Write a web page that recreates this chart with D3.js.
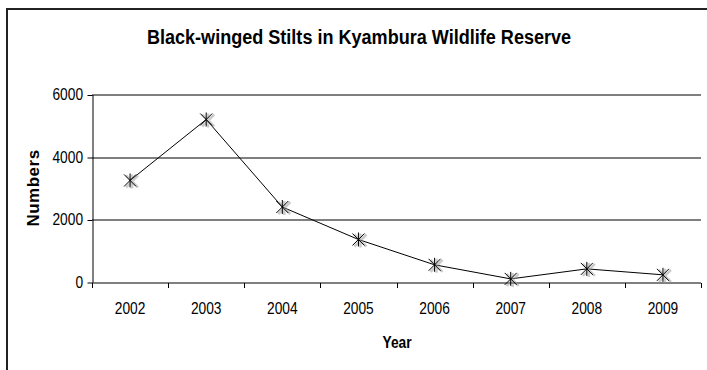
<html>
<head>
  <title>Black-winged Stilts</title>
  <script src="https://d3js.org/d3.v7.min.js"></script>
  <style>
  body { margin: 0; background: #fff; }
  text { font-family: "Liberation Sans", Arial, sans-serif; fill: #000; }
  .grid { stroke: #000; stroke-width: 1px; }
  .axis path, .axis line { stroke: #000; }
  .axis text { font-size: 16px; font-family: "Liberation Sans", Arial, sans-serif; fill: #000; }
  .ttl { font-size: 21px; font-weight: bold; }
  .lbl { font-size: 16px; font-weight: bold; }
  </style>
</head>
<body>
  <svg id="chart" width="707" height="370"></svg>
  <script>
  // data
  const years = ["2002", "2003", "2004", "2005", "2006", "2007", "2008", "2009"];
  const numbers = [3250, 5200, 2400, 1360, 550, 100, 420, 230];
  const yTicks = [0, 2000, 4000, 6000];

  const svg = d3.select("#chart");
  const margin = { top: 94.5, right: 6, bottom: 88, left: 92 };
  const width = 707 - margin.left - margin.right;
  const height = 370 - margin.top - margin.bottom;
  const squeeze = "scale(0.86,1)";

  // outer chart border (runs off the right and bottom)
  svg.append("rect")
    .attr("x", 7).attr("y", 9)
    .attr("width", 720).attr("height", 380)
    .attr("fill", "none")
    .attr("stroke", "#222")
    .attr("stroke-width", 2);

  svg.append("g")
    .attr("transform", "translate(359,43.5) " + squeeze)
    .append("text")
    .attr("class", "ttl")
    .attr("text-anchor", "middle")
    .text("Black-winged Stilts in Kyambura Wildlife Reserve");

  const g = svg.append("g")
    .attr("transform", "translate(" + margin.left + "," + margin.top + ")");

  const x = d3.scaleBand().domain(years).range([0, width]);
  const y = d3.scaleLinear().domain([0, 6000]).range([height, 0]);

  g.selectAll(".grid")
    .data(yTicks.filter(d => d > 0))
    .enter().append("line")
    .attr("class", "grid")
    .attr("x1", 0).attr("x2", width)
    .attr("y1", d => Math.round(y(d)) + 0.5)
    .attr("y2", d => Math.round(y(d)) + 0.5);

  // x axis: ticks between categories
  const xAxis = g.append("g")
    .attr("class", "axis")
    .attr("transform", "translate(0," + (Math.round(height) + 0.5) + ")")
    .call(d3.axisBottom(x).tickSize(0).tickPadding(20));
  xAxis.select(".domain").remove();
  xAxis.selectAll(".tick text").attr("transform", squeeze);
  xAxis.append("line").attr("x1", 0).attr("x2", width).attr("stroke", "#000");
  xAxis.selectAll(".sep")
    .data(d3.range(years.length + 1))
    .enter().append("line")
    .attr("x1", i => Math.round(i * x.step()) + 0.5)
    .attr("x2", i => Math.round(i * x.step()) + 0.5)
    .attr("y1", 0).attr("y2", 5)
    .attr("stroke", "#000");

  const yAxis = g.append("g")
    .attr("class", "axis")
    .attr("transform", "translate(0.5,0)")
    .call(d3.axisLeft(y).tickValues(yTicks).tickFormat(d3.format("d"))
      .tickSize(5).tickPadding(6).tickSizeOuter(0));
  yAxis.selectAll(".tick line").attr("transform", "translate(0,0.5)");
  yAxis.selectAll(".tick text").attr("transform", squeeze);

  // series line
  const line = d3.line()
    .x((d, i) => x(years[i]) + x.bandwidth() / 2)
    .y(d => y(d));
  g.append("path")
    .datum(numbers)
    .attr("fill", "none")
    .attr("stroke", "#000")
    .attr("stroke-width", 1)
    .attr("d", line);

  // asterisk markers with a soft grey shadow
  const star = "M-6,-6L6,6M-6,6L6,-6M0,-7L0,7";
  const pts = g.selectAll(".pt")
    .data(numbers)
    .enter().append("g")
    .attr("transform", (d, i) => "translate(" + (x(years[i]) + x.bandwidth() / 2) + "," + y(d) + ")");
  pts.append("path")
    .attr("d", star)
    .attr("transform", "translate(2,1)")
    .attr("stroke", "#999")
    .attr("stroke-width", 2.5)
    .attr("opacity", 0.5);
  pts.append("path")
    .attr("d", star)
    .attr("stroke", "#000")
    .attr("stroke-width", 1);

  svg.append("g")
    .attr("transform", "translate(397,348) " + squeeze)
    .append("text")
    .attr("class", "lbl")
    .attr("text-anchor", "middle")
    .text("Year");

  svg.append("text")
    .attr("class", "lbl")
    .attr("transform", "translate(39,188) rotate(-90)")
    .attr("text-anchor", "middle")
    .style("font-size", "17px")
    .style("letter-spacing", "0.5px")
    .text("Numbers");
  </script>
</body>
</html>
